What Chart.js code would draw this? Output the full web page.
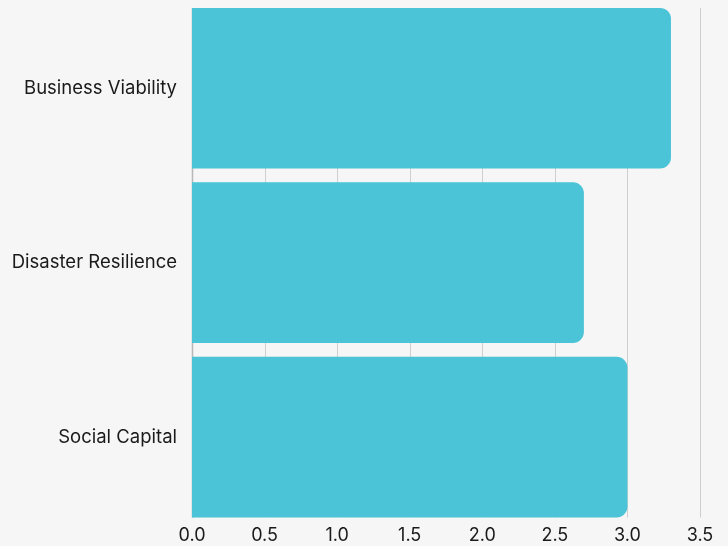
<!DOCTYPE html>
<html>
<head>
<meta charset="utf-8">
<script src="https://cdn.jsdelivr.net/npm/chart.js@4"></script>
<style>
  html, body { margin: 0; padding: 0; background: #f5f6f5; }
  #wrap { width: 728px; height: 546px; }
</style>
</head>
<body>
<div id="wrap"><canvas id="c" width="728" height="546"></canvas></div>
<script>
// Categories and average scores
const categories = ["Business Viability", "Disaster Resilience", "Social Capital"];
const scores = [3.3, 2.7, 3.0];
const xTicks = [0, 0.5, 1, 1.5, 2, 2.5, 3, 3.5];

const barColor = "#4ac4d6";
const gridColor = "#cfcfcf";
const axisColor = "#b8b8b8";
const textColor = "#1a1a1a";

// Vertical gridlines and the zero baseline span only the band covered by the bars
const bandGrid = {
  id: "bandGrid",
  beforeDatasetsDraw(chart) {
    const meta = chart.getDatasetMeta(0);
    if (!meta.data.length) return;
    const first = meta.data[0], last = meta.data[meta.data.length - 1];
    const top = first.y - first.height / 2;
    const bottom = last.y + last.height / 2;
    const xs = chart.scales.x;
    const ctx = chart.ctx;
    ctx.save();
    xs.ticks.forEach((t, i) => {
      const px = Math.round(xs.getPixelForValue(t.value)) + 0.5;
      ctx.strokeStyle = i === 0 ? axisColor : gridColor;
      ctx.lineWidth = i === 0 ? 1.5 : 1;
      ctx.beginPath();
      ctx.moveTo(px, top);
      ctx.lineTo(px, bottom);
      ctx.stroke();
    });
    ctx.restore();
  }
};

new Chart(document.getElementById("c"), {
  type: "bar",
  data: {
    labels: categories,
    datasets: [{
      data: scores,
      backgroundColor: barColor,
      borderWidth: 0,
      borderRadius: { topRight: 11, bottomRight: 11, topLeft: 0, bottomLeft: 0 },
      borderSkipped: false,
      barPercentage: 0.921,
      categoryPercentage: 1.0
    }]
  },
  plugins: [bandGrid],
  options: {
    indexAxis: "y",
    responsive: false,
    animation: false,
    layout: { padding: { top: 1, right: 28, left: 0, bottom: 0 } },
    plugins: { legend: { display: false }, tooltip: { enabled: false } },
    scales: {
      x: {
        min: 0,
        max: 3.5,
        afterBuildTicks: (axis) => { axis.ticks = xTicks.map(v => ({ value: v })); },
        afterFit: (s) => { s.paddingLeft = 0; s.paddingRight = 0; },
        grid: { display: false, drawTicks: false },
        border: { display: false },
        ticks: {
          color: textColor,
          padding: 0,
          font: { family: "Inter", size: 18 },
          callback: (v) => Number(v).toFixed(1)
        }
      },
      y: {
        afterFit: (s) => { s.paddingTop = 0; s.paddingBottom = 0; s.width = 192; },
        grid: { display: false, drawTicks: false },
        border: { display: false },
        ticks: {
          color: textColor,
          padding: 15,
          font: { family: "Inter", size: 18.5 }
        }
      }
    }
  }
});
</script>
</body>
</html>
